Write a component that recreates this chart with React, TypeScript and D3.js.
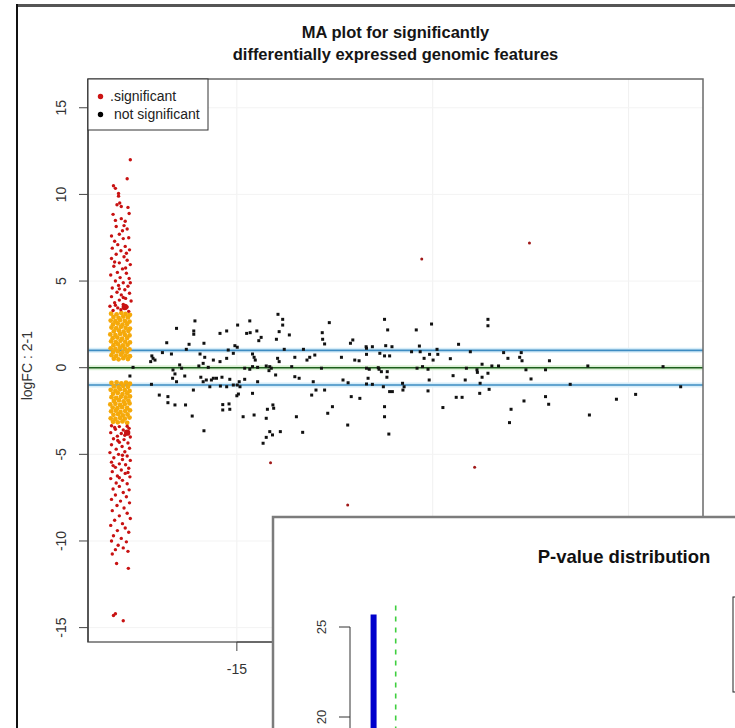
import React from 'react';
import * as d3 from 'd3';

const W = 735;
const H = 728;

// ---- MA plot data ----
const yTicks = [-15, -10, -5, 0, 5, 10, 15];
const xTicks = [-15, -10, -5];
const xTickLabels = ['-15', '-10', '-5'];
const refLines = [-1, 0, 1];

const upperRed: [number, number][] = [
  [-17.72, 12.0], [-17.8, 10.9], [-18.15, 10.5], [-18.1, 10.35], [-18.02, 10.05], [-17.99, 9.5], [-18.06, 9.4],
  [-17.95, 9.3], [-17.78, 9.25], [-17.75, 8.9], [-17.95, 8.6], [-17.85, 8.45], [-18.1, 8.5], [-17.88, 8.2],
  [-18.08, 8.15], [-17.8, 8.0], [-18.2, 7.6], [-18.0, 7.7], [-17.9, 7.45], [-18.12, 7.3], [-17.76, 7.5],
  [-18.04, 7.1], [-17.85, 7.0], [-18.18, 6.9], [-17.96, 6.75], [-17.74, 6.8], [-18.08, 6.55], [-17.88, 6.4],
  [-18.2, 6.3], [-17.8, 6.2], [-18.0, 6.05], [-17.72, 5.95], [-18.14, 5.85], [-17.92, 5.7], [-18.05, 5.5],
  [-17.82, 5.45], [-18.22, 5.35], [-17.98, 5.2], [-17.75, 5.15], [-18.1, 5.0], [-17.9, 4.9], [-18.02, 4.75],
  [-17.78, 4.7], [-18.18, 4.6], [-17.86, 4.5], [-18.06, 4.35], [-17.74, 4.3], [-17.95, 4.2], [-18.2, 4.1],
  [-17.84, 4.0], [-18.0, 3.9], [-17.7, 3.85], [-18.12, 3.75], [-17.9, 3.65], [-18.24, 3.55], [-17.8, 3.5],
  [-18.04, 3.45], [-17.96, 3.35], [-18.16, 3.3], [-17.76, 3.25], [-18.12, 6.1], [-17.92, 7.9], [-18.16, 8.85],
  [-17.84, 5.75], [-18.0, 4.55], [-17.9, 4.05], [-18.1, 3.6], [-17.72, 4.9], [-17.82, 6.6], [-18.02, 9.9],
];
const bigRed: [number, number][] = [[-17.86, 3.5], [-17.8, -3.75]];

const upperOrange: [number, number][] = [
  [-18.21, 3.12], [-18.07, 3.08], [-17.95, 3.15], [-17.84, 3.1], [-17.73, 3.05],
  [-18.15, 2.92], [-18.02, 2.88], [-17.9, 2.95], [-17.78, 2.9],
  [-18.22, 2.72], [-18.1, 2.68], [-17.98, 2.75], [-17.86, 2.7], [-17.74, 2.66],
  [-18.16, 2.5], [-18.04, 2.55], [-17.92, 2.48], [-17.8, 2.52],
  [-18.2, 2.32], [-18.08, 2.28], [-17.96, 2.35], [-17.84, 2.3], [-17.73, 2.26],
  [-18.14, 2.1], [-18.01, 2.14], [-17.89, 2.08], [-17.77, 2.12],
  [-18.23, 1.92], [-18.1, 1.88], [-17.98, 1.95], [-17.86, 1.9], [-17.74, 1.86],
  [-18.17, 1.7], [-18.05, 1.74], [-17.93, 1.68], [-17.8, 1.72],
  [-18.21, 1.52], [-18.09, 1.48], [-17.97, 1.55], [-17.85, 1.5], [-17.73, 1.46],
  [-18.15, 1.3], [-18.03, 1.34], [-17.91, 1.28], [-17.79, 1.32],
  [-18.22, 1.12], [-18.1, 1.08], [-17.98, 1.15], [-17.86, 1.1], [-17.74, 1.06],
  [-18.16, 0.9], [-18.04, 0.94], [-17.92, 0.88], [-17.8, 0.92],
  [-18.2, 0.72], [-18.08, 0.68], [-17.96, 0.75], [-17.84, 0.7], [-17.73, 0.66],
  [-18.14, 0.52], [-18.02, 0.48], [-17.9, 0.55], [-17.78, 0.5],
];

const lowerOrange: [number, number][] = [
  [-18.2, -0.88], [-18.07, -0.85], [-17.95, -0.9], [-17.83, -0.86], [-17.73, -0.92],
  [-18.14, -1.08], [-18.02, -1.12], [-17.9, -1.05], [-17.78, -1.1],
  [-18.22, -1.28], [-18.1, -1.32], [-17.98, -1.25], [-17.86, -1.3], [-17.74, -1.34],
  [-18.16, -1.5], [-18.04, -1.46], [-17.92, -1.52], [-17.8, -1.48],
  [-18.2, -1.7], [-18.08, -1.74], [-17.96, -1.68], [-17.84, -1.72], [-17.73, -1.66],
  [-18.14, -1.92], [-18.01, -1.88], [-17.89, -1.95], [-17.77, -1.9],
  [-18.23, -2.12], [-18.1, -2.08], [-17.98, -2.15], [-17.86, -2.1], [-17.74, -2.06],
  [-18.17, -2.3], [-18.05, -2.34], [-17.93, -2.28], [-17.8, -2.32],
  [-18.21, -2.52], [-18.09, -2.48], [-17.97, -2.55], [-17.85, -2.5], [-17.73, -2.46],
  [-18.15, -2.72], [-18.03, -2.68], [-17.91, -2.75], [-17.79, -2.7],
  [-18.22, -2.92], [-18.1, -2.96], [-17.98, -2.9], [-17.86, -2.94], [-17.74, -2.88],
  [-18.16, -3.12], [-18.04, -3.15], [-17.92, -3.1], [-17.8, -3.18],
];

const lowerRed: [number, number][] = [
  [-18.2, -3.35], [-18.0, -3.4], [-17.8, -3.38], [-18.1, -3.55], [-17.9, -3.6], [-17.75, -3.5], [-18.22, -3.75],
  [-17.95, -3.8], [-17.82, -3.72], [-18.05, -3.95], [-17.72, -4.0], [-18.15, -4.1], [-17.88, -4.15], [-18.0, -4.3],
  [-17.78, -4.35], [-18.2, -4.45], [-17.93, -4.55], [-18.08, -4.7], [-17.74, -4.65], [-18.24, -4.9], [-17.86, -4.85],
  [-18.02, -5.0], [-17.8, -5.1], [-18.14, -5.2], [-17.92, -5.3], [-17.72, -5.35], [-18.2, -5.45], [-18.0, -5.55],
  [-17.84, -5.6], [-18.1, -5.75], [-17.76, -5.8], [-17.95, -5.9], [-18.18, -6.0], [-17.85, -6.1], [-18.05, -6.25],
  [-17.73, -6.3], [-18.22, -6.4], [-17.92, -6.5], [-18.08, -6.65], [-17.8, -6.7], [-18.0, -6.85], [-18.16, -7.0],
  [-17.75, -7.05], [-17.9, -7.2], [-18.1, -7.35], [-17.82, -7.45], [-18.2, -7.6], [-17.97, -7.7], [-17.74, -7.8],
  [-18.06, -7.95], [-17.88, -8.1], [-18.18, -8.25], [-17.8, -8.4], [-18.0, -8.55], [-17.72, -8.7], [-18.12, -8.8],
  [-17.92, -9.0], [-18.22, -9.1], [-17.85, -9.25], [-18.05, -9.4], [-17.76, -9.5], [-18.15, -9.7], [-17.95, -9.85],
  [-18.2, -10.0], [-17.82, -10.05], [-18.03, -10.25], [-17.9, -10.4], [-18.1, -10.5], [-17.78, -10.6],
  [-18.18, -10.75], [-18.07, -11.3], [-17.77, -11.58], [-18.15, -14.3], [-18.1, -14.2], [-17.9, -14.6],
  [-18.12, -3.45], [-17.86, -3.9], [-18.04, -4.2], [-17.92, -5.05], [-18.16, -5.65], [-17.78, -6.05], [-18.0, -6.35],
];

const redOutliers: [number, number][] = [
  [-10.28, 6.27], [-7.53, 7.19], [-12.17, -7.92], [-14.14, -5.48], [-8.93, -5.75],
];

const nsPoints: [number, number][] = [
  [-17.65, 0.02], [-17.73, -0.48], [-17.17, 0.68], [-17.14, 0.54], [-17.09, 0.44], [-17.2, 0.35], [-17.18, -0.96],
  [-16.98, -1.58], [-16.79, 1.44], [-16.9, 0.87], [-16.76, -1.67], [-16.76, -2.02], [-16.58, -2.15], [-16.31, -2.15],
  [-16.54, 2.27], [-16.67, 0.79], [-16.63, -0.13], [-16.58, -0.36], [-16.64, -0.61], [-16.54, -0.81], [-16.41, -0.03],
  [-16.46, 0.16], [-16.33, -0.48], [-16.22, 1.35], [-16.29, 1.06], [-16.07, 2.7], [-16.1, 2.12], [-16.1, 1.93],
  [-16.14, -2.79], [-16.11, -1.29], [-15.97, 0.1], [-15.94, 0.79], [-15.84, 1.41], [-15.82, 0.6], [-15.86, 0.25],
  [-15.73, 0.02], [-15.92, -0.55], [-15.86, -0.81], [-15.78, -0.71], [-15.69, -1.1], [-15.65, -0.71], [-15.6, -0.61],
  [-15.52, -0.61], [-15.42, -1.06], [-15.38, -0.55], [-15.26, -1.1], [-15.18, -0.67], [-15.09, -1.0], [-14.99, -1.0],
  [-15.84, -3.64], [-15.43, 1.98], [-15.26, 2.12], [-15.36, -2.13], [-15.36, -2.44], [-15.2, -2.09], [-15.18, -2.4],
  [-15.43, 0.35], [-15.6, 0.44], [-15.26, 0.54], [-15.22, 1.02], [-14.98, 2.46], [-14.99, 1.18], [-15.05, 1.27],
  [-15.09, 0.83], [-14.94, -0.81], [-14.92, -1.1], [-14.96, -1.52], [-15.0, -1.62], [-14.84, -2.83], [-14.75, 1.98],
  [-14.66, 2.02], [-14.49, 2.12], [-14.67, 2.7], [-14.56, 0.6], [-14.6, 0.79], [-14.53, 0.44], [-14.8, -0.03],
  [-14.67, -0.09], [-14.6, 0.06], [-14.47, 0.02], [-14.8, -0.67], [-14.6, -1.48], [-14.47, -0.81], [-14.56, -2.73],
  [-14.44, 1.56], [-14.38, 1.75], [-14.33, -4.36], [-14.25, -4.02], [-14.09, -3.88], [-14.16, -3.69], [-13.89, -3.69],
  [-14.22, -2.4], [-14.25, -2.92], [-14.08, -2.15], [-14.06, -2.34], [-13.95, 3.08], [-13.83, 2.79], [-13.83, 2.46],
  [-13.92, 2.08], [-13.99, 1.64], [-14.16, 0.06], [-14.12, -0.03], [-14.18, -0.17], [-14.25, 0.1], [-13.96, 0.54],
  [-13.92, 0.35], [-14.01, -0.42], [-13.66, 1.89], [-13.79, 1.06], [-13.6, 0.06], [-13.52, 0.6], [-13.52, -0.52],
  [-13.41, -0.61], [-13.48, -2.83], [-13.32, -3.73], [-13.3, 1.06], [-13.14, 0.6], [-13.21, 0.44], [-13.01, 0.73],
  [-13.05, -0.81], [-13.09, -1.58], [-12.98, -1.29], [-12.84, -0.03], [-12.76, -1.29], [-12.82, 2.02], [-12.81, 1.64],
  [-12.76, 1.37], [-12.64, 2.6], [-12.68, -2.63], [-12.56, -2.25], [-12.33, 0.6], [-12.29, -0.71], [-12.16, -0.87],
  [-12.17, -3.31], [-12.08, -1.67], [-12.1, 1.41], [-12.04, 1.6], [-11.99, 0.44], [-11.88, 0.4], [-11.86, -1.77],
  [-11.69, 1.12], [-11.69, -0.03], [-11.65, -0.61], [-11.7, 1.21], [-11.54, 1.21], [-11.2, 1.27], [-11.04, 1.21],
  [-11.69, 0.77], [-11.35, 0.83], [-11.23, 0.68], [-11.1, 0.68], [-11.62, -0.09], [-11.39, 0.0], [-11.37, -0.09],
  [-11.31, -0.23], [-11.16, -0.23], [-11.17, -0.55], [-11.69, -0.94], [-11.54, -0.96], [-11.26, -1.1], [-11.1, -1.38],
  [-11.03, -1.38], [-10.77, -0.9], [-10.73, -1.1], [-10.76, -1.29], [-11.23, -2.25], [-11.23, -2.83], [-11.12, -3.83],
  [-11.23, 2.79], [-11.15, 2.18], [-10.42, 2.18], [-10.03, 2.52], [-10.54, 0.92], [-10.34, 1.25], [-10.32, 0.92],
  [-9.89, 1.06], [-9.87, 0.77], [-10.08, 0.77], [-10.22, 0.54], [-9.99, 0.44], [-10.4, -0.03], [-10.26, 0.06],
  [-10.12, -0.09], [-10.09, -0.71], [-10.12, -1.34], [-9.48, -0.46], [-9.55, 0.52], [-9.34, 1.35], [-9.4, -1.71],
  [-9.25, -1.71], [-9.74, -2.3], [-9.14, -0.03], [-9.17, -0.71], [-9.04, 0.92], [-8.87, -0.12], [-8.86, -0.27],
  [-8.74, 0.2], [-8.74, -0.55], [-8.79, -0.9], [-8.8, -1.48], [-8.59, 2.79], [-8.59, 2.42], [-8.59, -0.32],
  [-8.56, -1.25], [-8.49, 0.1], [-8.32, 0.1], [-8.19, 0.87], [-8.08, 0.54], [-7.72, 0.4], [-7.78, 0.6], [-7.74, 0.87],
  [-7.62, -0.12], [-7.49, -0.65], [-7.67, -1.92], [-8.0, -2.4], [-8.04, -3.17], [-7.12, -0.12], [-7.02, 0.4],
  [-7.12, -1.67], [-7.04, -2.11], [-6.49, -0.96], [-6.04, 0.1], [-6.0, -2.73], [-5.31, -1.82], [-4.82, -1.54],
  [-4.12, 0.06], [-3.67, -1.1],
];

const legendLabels = ['.significant', 'not significant'];
const legendColors = ['#cc1414', '#000000'];

// ---- P-value inset data ----
const pTicks = [20, 25];
const pBarP = [0.006];
const pBarCount = [25.7];
const pCutoff = 0.05;

const FONT = '"Liberation Sans", Arial, Helvetica, sans-serif';

export default function App() {
  const x = d3.scaleLinear().domain([-18.8, -3.1]).range([88, 703]);
  const y = d3.scaleLinear().domain([-15.83, 16.66]).range([642, 79]);

  const px = d3.scaleLinear().domain([0, 1]).range([370, 884]);
  const py = d3.scaleLinear().domain([20, 25]).range([717, 627]);

  const RED = '#c81212';
  const ORANGE = '#f5a90a';
  const cx = (x.range()[0] + x.range()[1]) / 2;

  return (
    <svg width={W} height={H} style={{ position: 'absolute', left: 0, top: 0, background: '#fff' }}
      fontFamily={FONT}>
      <rect x={0} y={0} width={W} height={H} fill="#fff" />
      {/* outer frame */}
      <line x1={16} x2={W} y1={5.5} y2={5.5} stroke="#555" strokeWidth={3} />
      <line x1={17} x2={17} y1={4} y2={H} stroke="#111" strokeWidth={2} />

      {/* title */}
      <text x={cx} y={38} textAnchor="middle" fontWeight="bold" fontSize={16.5} fill="#151515">
        MA plot for significantly
      </text>
      <text x={cx} y={60} textAnchor="middle" fontWeight="bold" fontSize={16.5} fill="#151515">
        differentially expressed genomic features
      </text>

      {/* faint grid */}
      {xTicks.map((t) => (
        <line key={'gx' + t} x1={x(t)} x2={x(t)} y1={79} y2={642} stroke="#f0f0f0" strokeWidth={1} />
      ))}
      {yTicks.map((t) => (
        <line key={'gy' + t} x1={88} x2={703} y1={y(t)} y2={y(t)} stroke="#f3f3f3" strokeWidth={1} />
      ))}

      {/* reference lines */}
      {refLines.map((r) => (
        <g key={'r' + r}>
          <line x1={88} x2={703} y1={y(r)} y2={y(r)} stroke={r === 0 ? '#dcf1d6' : '#d6edf9'} strokeWidth={5} />
          <line x1={88} x2={703} y1={y(r)} y2={y(r)} stroke={r === 0 ? '#1d5f1d' : '#3d8cc2'} strokeWidth={1.6} />
        </g>
      ))}

      {/* points */}
      {nsPoints.map((d, i) => (
        <rect key={'n' + i} x={x(d[0]) - 1.5} y={y(d[1]) - 1.5} width={3} height={3} fill="#111" />
      ))}
      {upperOrange.concat(lowerOrange).map((d, i) => (
        <circle key={'o' + i} cx={x(d[0])} cy={y(d[1])} r={2.4} fill={ORANGE} />
      ))}
      {upperRed.concat(lowerRed).map((d, i) => (
        <circle key={'s' + i} cx={x(d[0])} cy={y(d[1])} r={1.7} fill={RED} />
      ))}
      {bigRed.map((d, i) => (
        <circle key={'b' + i} cx={x(d[0])} cy={y(d[1])} r={3.2} fill={RED} />
      ))}
      {redOutliers.map((d, i) => (
        <circle key={'ro' + i} cx={x(d[0])} cy={y(d[1])} r={1.5} fill="#a01818" />
      ))}

      {/* box */}
      <rect x={88} y={79} width={615} height={563} fill="none" stroke="#6a6a6a" strokeWidth={1.5} />
      <line x1={88} x2={88} y1={79} y2={642} stroke="#333" strokeWidth={1.2} />

      {/* y axis */}
      {yTicks.map((t) => (
        <g key={'yt' + t}>
          <line x1={79} x2={88} y1={y(t)} y2={y(t)} stroke="#444" strokeWidth={1} />
          <text transform={`translate(66,${y(t)}) rotate(-90)`} textAnchor="middle" fontSize={14} fill="#333">
            {t}
          </text>
        </g>
      ))}
      <text transform={`translate(32,${y(0) - 2}) rotate(-90)`} textAnchor="middle" fontSize={14} fill="#333">
        logFC : 2-1
      </text>

      {/* x axis */}
      <line x1={x(xTicks[0])} x2={x(xTicks[xTicks.length - 1])} y1={642} y2={642} stroke="#444" strokeWidth={1} />
      {xTicks.map((t, i) => (
        <g key={'xt' + t}>
          <line x1={x(t)} x2={x(t)} y1={642} y2={651} stroke="#444" strokeWidth={1} />
          <text x={x(t)} y={674} textAnchor="middle" fontSize={14} fill="#333">
            {xTickLabels[i]}
          </text>
        </g>
      ))}

      {/* legend */}
      <rect x={88} y={79} width={120} height={51} fill="#fff" stroke="#333" strokeWidth={1} />
      {legendLabels.map((l, i) => (
        <g key={'lg' + i}>
          <circle cx={100.5} cy={96.5 + i * 18} r={2.7} fill={legendColors[i]} />
          <text x={i === 0 ? 110 : 114} y={101 + i * 18} fontSize={14} fill="#222">
            {l}
          </text>
        </g>
      ))}

      {/* ---- inset: P-value distribution ---- */}
      <rect x={273} y={517} width={520} height={260} fill="#fff" stroke="#7c7c7c" strokeWidth={2.5} />
      <text x={624} y={563} textAnchor="middle" fontWeight="bold" fontSize={18.5} fill="#111">
        P-value distribution
      </text>
      <line x1={350} x2={350} y1={py(25)} y2={py(0)} stroke="#333" strokeWidth={1} />
      {pTicks.map((t) => (
        <g key={'pt' + t}>
          <line x1={339} x2={350} y1={py(t)} y2={py(t)} stroke="#333" strokeWidth={1} />
          <text transform={`translate(326,${py(t)}) rotate(-90)`} textAnchor="middle" fontSize={13} fill="#333">
            {t}
          </text>
        </g>
      ))}
      {pBarP.map((p, i) => (
        <line key={'pb' + i} x1={px(p) + 0.5} x2={px(p) + 0.5} y1={py(pBarCount[i])} y2={py(0)}
          stroke="#0000cc" strokeWidth={6} />
      ))}
      <line x1={px(pCutoff)} x2={px(pCutoff)} y1={py(26.2)} y2={py(0)} stroke="#3fcf3f" strokeWidth={1.6}
        strokeDasharray="5,6" />
      <rect x={733} y={597} width={100} height={95} fill="#fff" stroke="#222" strokeWidth={1} />
    </svg>
  );
}
